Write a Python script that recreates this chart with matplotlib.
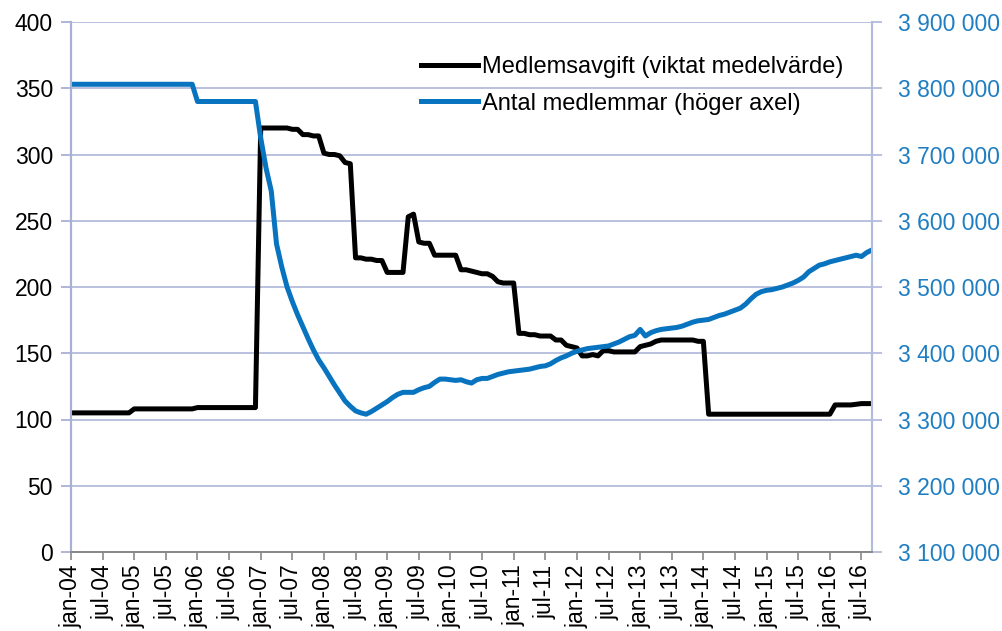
import matplotlib
matplotlib.use("Agg")
import matplotlib.pyplot as plt
import numpy as np

plt.rcParams['font.family'] = ['Liberation Sans', 'DejaVu Sans']

# Monthly categories jan-04 .. sep-16
months_sv = ['jan', 'feb', 'mar', 'apr', 'maj', 'jun', 'jul', 'aug', 'sep', 'okt', 'nov', 'dec']
categories = [f"{months_sv[m]}-{y:02d}" for y in range(4, 17) for m in range(12)][:153]

fee = [105] * 12 + [108] * 12 + [109] * 12 + [
    320, 320, 320, 320, 320, 320, 319, 319,
    315, 315, 314, 314,
    301, 300, 300, 299, 294, 293,
    222, 222, 221, 221, 220, 220,
    211, 211, 211, 211,
    253, 255, 234, 233, 233,
    224, 224, 224, 224, 224,
    213, 213, 212, 211, 210, 210, 208, 204, 203, 203, 203,
    165, 165, 164, 164, 163, 163, 163, 160, 160, 156, 155, 154,
    148, 148, 149, 148,
    152, 152, 151, 151, 151, 151, 151,
    155, 156, 157, 159, 160, 160, 160, 160, 160, 160, 160, 159, 159,
] + [104] * 24 + [111, 111, 111, 111, 111.5, 112, 112, 112]

members = [3806000] * 24 + [3780000] * 12 + [
    3725000, 3680000, 3645000, 3565000, 3530000, 3500000, 3478000, 3458000,
    3440000, 3422000, 3405000, 3390000, 3378000, 3365000, 3352000, 3340000,
    3328000, 3320000, 3313000, 3310000, 3308000, 3312000, 3317000, 3322000,
    3327000, 3333000, 3338000, 3341000, 3341000, 3341000, 3345000, 3348000,
    3350000, 3356000, 3361000, 3361000, 3360000, 3359000, 3360000, 3357000,
    3355000, 3360000, 3362000, 3362000, 3365000, 3368000, 3370000, 3372000,
    3373000, 3374000, 3375000, 3376000, 3378000, 3380000, 3381000, 3384000,
    3389000, 3393000, 3396000, 3400000, 3403000, 3405000, 3407000, 3408000,
    3409000, 3410000, 3411000, 3414000, 3417000, 3421000, 3425000, 3427000,
    3436000, 3426000, 3431000, 3434000, 3436000, 3437000, 3438000, 3439000,
    3441000, 3444000, 3447000, 3449000, 3450000, 3451000, 3454000, 3457000,
    3459000, 3462000, 3465000, 3468000, 3474000, 3482000, 3489000, 3493000,
    3495000, 3496000, 3498000, 3500000, 3503000, 3506000, 3510000, 3515000,
    3523000, 3528000, 3533000, 3535000, 3538000, 3540000, 3542000, 3544000,
    3546000, 3548000, 3546000, 3552000, 3556000,
]

series_labels = ['Medlemsavgift (viktat medelvärde)', 'Antal medlemmar (höger axel)']

n = min(len(categories), len(fee), len(members))
x = np.arange(n)

FS = 16.5
fig = plt.figure(figsize=(10.03, 6.31), dpi=100)
ax = fig.add_axes([71 / 1003, 1 - 552 / 631, (872 - 71) / 1003, (552 - 22) / 631])
ax2 = ax.twinx()

grid_c = '#B4BCDC'
ax.set_ylim(0, 400)
ax.set_yticks(np.arange(0, 401, 50))
ax.set_xlim(0, n - 1)
ax.yaxis.grid(True, color=grid_c, linewidth=1.3)
ax.set_axisbelow(True)

tick_pos = [i for i, c in enumerate(categories[:n]) if c.startswith('jan') or c.startswith('jul')]
ax.set_xticks(tick_pos)
ax.set_xticklabels([categories[i] for i in tick_pos], rotation=90, fontsize=FS)
ax.tick_params(axis='y', labelsize=FS, length=7, color='#A8B0D4', width=1.3, pad=6)
ax.tick_params(axis='x', length=6, color='#888888', width=1.2, pad=3)

l1, = ax.plot(x, fee[:n], color='black', linewidth=3.6, solid_joinstyle='round')

ax2.set_ylim(3100000, 3900000)
ax2.set_yticks(np.arange(3100000, 3900001, 100000))
ax2.set_yticklabels([f"{v:,}".replace(',', ' ') for v in range(3100000, 3900001, 100000)])
ax2.tick_params(axis='y', labelsize=FS, labelcolor='#1F7EC2', length=7, color='#B4BCDC',
                width=1.3, pad=12)
l2, = ax2.plot(x, members[:n], color='#0873BF', linewidth=3.6, solid_joinstyle='round')

for a in (ax, ax2):
    a.spines['top'].set_visible(False)
    a.spines['left'].set_color('#A8B0D4')
    a.spines['right'].set_color('#B4BCDC')
    a.spines['bottom'].set_color('#888888')
    a.spines['left'].set_linewidth(1.5)
    a.spines['right'].set_linewidth(1.5)
    a.spines['bottom'].set_linewidth(1.3)

leg = ax2.legend([l1, l2], series_labels,
                 loc='upper left', bbox_to_anchor=(421 / 1003, 1 - 56 / 631),
                 bbox_transform=fig.transFigure, frameon=False, fontsize=17,
                 handlelength=2.4, handletextpad=0.2, labelspacing=0.62,
                 borderpad=0, borderaxespad=0)

fig.savefig('out.png', dpi=100)
